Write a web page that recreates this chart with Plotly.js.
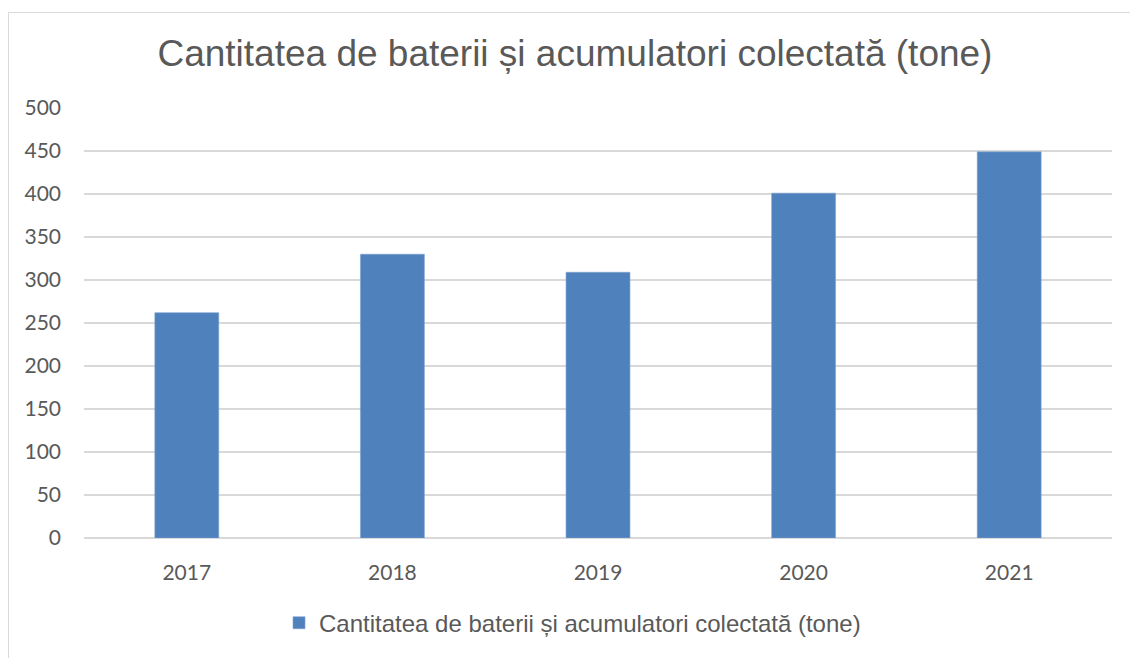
<!DOCTYPE html>
<html>
<head>
<meta charset="utf-8">
<script src="https://cdn.plot.ly/plotly-3.0.1.min.js"></script>
<style>
  html, body { margin: 0; padding: 0; overflow: hidden; background: #ffffff; }
  #wrap { position: relative; width: 1130px; height: 658px; overflow: hidden; }
  #chart { position: absolute; left: 0; top: 0; width: 1130px; height: 658px; }
  #frame { position: absolute; left: 8px; top: 12px; width: 1300px; height: 800px;
           border: 1.5px solid #d9d9d9; pointer-events: none; box-sizing: border-box; }
</style>
</head>
<body>
<div id="wrap">
  <div id="chart"></div>
  <div id="frame"></div>
</div>
<script>
const chartTitle = "Cantitatea de baterii și acumulatori colectată (tone)";
const seriesName = "Cantitatea de baterii și acumulatori colectată (tone)";
const years = ["2017", "2018", "2019", "2020", "2021"];
const tonnes = [262, 330, 309, 401, 449];
const yTicks = [0, 50, 100, 150, 200, 250, 300, 350, 400, 450, 500];

const textColor = "#595959";
const barColor = "#4F81BD";
const gridColor = "#D9D9D9";

const data = [{
  type: "bar",
  x: years,
  y: tonnes,
  name: seriesName,
  marker: { color: barColor, line: { color: "#7FA3D1", width: 0.6 } },
  showlegend: true,
  hoverinfo: "x+y"
}];

const layout = {
  width: 1130,
  height: 658,
  margin: { l: 84, r: 18, t: 108, b: 118 },
  paper_bgcolor: "rgba(0,0,0,0)",
  plot_bgcolor: "rgba(0,0,0,0)",
  bargap: 0.689,
  title: {
    text: chartTitle,
    font: { family: "Liberation Sans, Arial, sans-serif", size: 37, color: textColor },
    xref: "container", x: 0.5088, xanchor: "center",
    yref: "container", y: 0.9195, yanchor: "middle"
  },
  xaxis: {
    type: "category",
    tickfont: { family: "Lato, sans-serif", size: 21, color: textColor },
    showgrid: false,
    showline: false,
    zeroline: false,
    ticks: "",
    ticklabelstandoff: 20
  },
  yaxis: {
    range: [0, 500],
    tickmode: "array",
    tickvals: yTicks,
    ticktext: yTicks.map(String),
    tickfont: { family: "Lato, sans-serif", size: 21, color: textColor },
    showgrid: true,
    gridcolor: gridColor,
    gridwidth: 1.3,
    zeroline: true,
    zerolinecolor: gridColor,
    zerolinewidth: 1.3,
    showline: false,
    ticks: "",
    ticklabelstandoff: 22
  },
  showlegend: true,
  legend: {
    orientation: "h",
    xref: "paper", x: 0.1897, xanchor: "left",
    yref: "paper", y: -0.198, yanchor: "middle",
    font: { family: "Liberation Sans, Arial, sans-serif", size: 24, color: textColor },
    bgcolor: "rgba(0,0,0,0)"
  }
};

Plotly.newPlot("chart", data, layout, { displayModeBar: false, staticPlot: true });
</script>
</body>
</html>
